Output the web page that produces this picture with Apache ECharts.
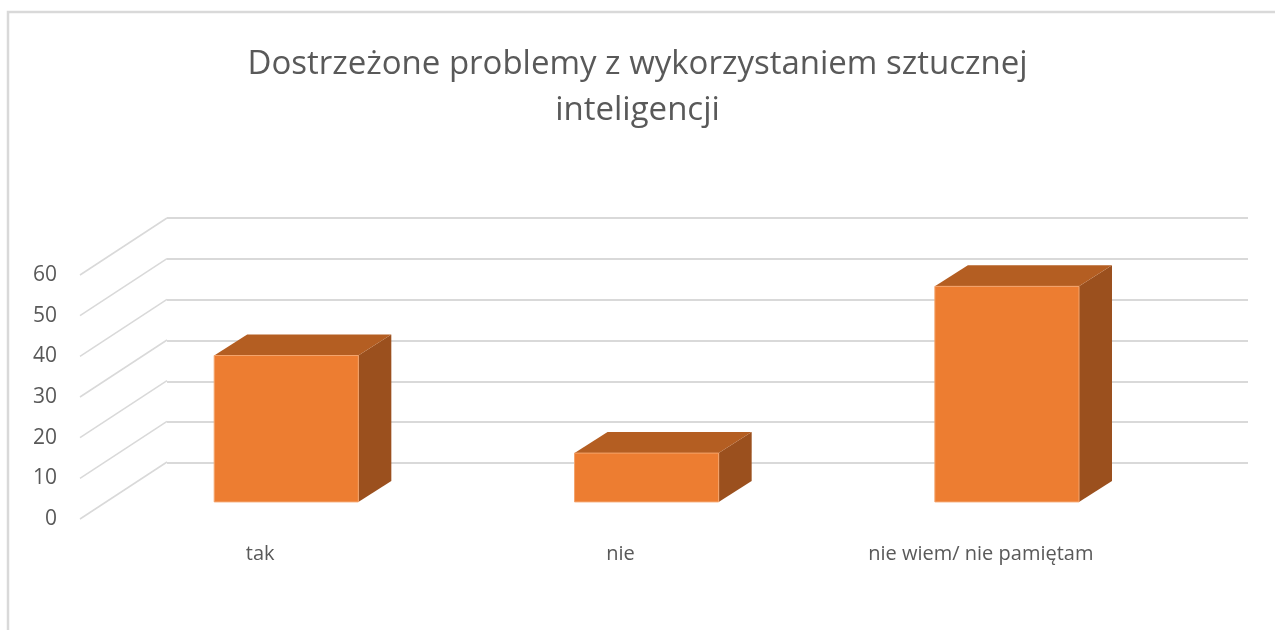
<!DOCTYPE html>
<html>
<head>
<meta charset="utf-8">
<title>Dostrzeżone problemy z wykorzystaniem sztucznej inteligencji</title>
<script src="https://cdn.jsdelivr.net/npm/echarts@6/dist/echarts.min.js"></script>
<style>
    html, body { margin: 0; padding: 0; background: #ffffff; }
    #chart { width: 1275px; height: 630px; }
</style>
</head>
<body>
<div id="chart"></div>
<script>
var categories = ['tak', 'nie', 'nie wiem/ nie pamiętam'];
var answers = [36, 12, 53];
var yTicks = [0, 10, 20, 30, 40, 50, 60];

// depth of the 3d box (front plane -> back wall)
var WALL_DX = 87, WALL_DY = -57;
// bars stand a bit inside the floor, and have their own depth
var BAR_DEPTH = 0.3;
var BAR_DX = 33, BAR_DY = -21;

var chartDom = document.getElementById('chart');
var myChart = echarts.init(chartDom, null, { renderer: 'canvas' });
var option;

function renderDiagonal(params, api) {
    var p = api.coord([0, api.value(0)]);
    var x0 = params.coordSys.x;
    return {
        type: 'line',
        shape: { x1: x0, y1: p[1], x2: x0 + WALL_DX, y2: p[1] + WALL_DY },
        style: { stroke: '#d9d9d9', lineWidth: 1.5 },
        silent: true
    };
}

function renderBar(params, api) {
    var idx = api.value(0);
    var top = api.coord([idx, api.value(1)]);
    var base = api.coord([idx, 0]);
    var band = api.size([1, 0])[0];
    var w = band * 0.4;
    var offX = WALL_DX * BAR_DEPTH, offY = WALL_DY * BAR_DEPTH;
    var x0 = top[0] + offX - w / 2;
    var x1 = x0 + w;
    var yt = top[1] + offY;
    var yb = base[1] + offY;
    return {
        type: 'group',
        children: [{
            type: 'polygon',
            shape: { points: [[x1, yt], [x1 + BAR_DX, yt + BAR_DY], [x1 + BAR_DX, yb + BAR_DY], [x1, yb]] },
            style: { fill: '#9b501e' }
        }, {
            type: 'polygon',
            shape: { points: [[x0, yt], [x0 + BAR_DX, yt + BAR_DY], [x1 + BAR_DX, yt + BAR_DY], [x1, yt]] },
            style: { fill: '#b45e22' }
        }, {
            type: 'rect',
            shape: { x: x0, y: yt, width: w, height: yb - yt },
            style: { fill: '#ed7d31', stroke: '#f4a46c', lineWidth: 1 }
        }]
    };
}

option = {
    backgroundColor: '#ffffff',
    animation: false,
    textStyle: { fontFamily: 'Open Sans' },
    title: {
        text: 'Dostrzeżone problemy z wykorzystaniem sztucznej\ninteligencji',
        left: 'center',
        top: 37,
        textStyle: {
            fontFamily: 'Open Sans',
            fontWeight: 'normal',
            fontSize: 33,
            lineHeight: 46,
            color: '#595959'
        }
    },
    graphic: [{
        type: 'rect',
        shape: { x: 8, y: 12, width: 1400, height: 800 },
        style: { fill: 'none', stroke: '#d9d9d9', lineWidth: 2.5 },
        silent: true
    }],
    grid: [
        // front plane: labels, diagonals, bars
        { left: 80, right: 114, top: 275, bottom: 111 },
        // back wall: gridlines
        { left: 167, right: 27, top: 218, bottom: 167 }
    ],
    xAxis: [{
        type: 'category',
        gridIndex: 0,
        data: categories,
        axisLine: { show: false },
        axisTick: { show: false },
        axisLabel: { color: '#595959', fontSize: 20, margin: 25 }
    }, {
        type: 'category',
        gridIndex: 1,
        data: categories,
        show: false
    }],
    yAxis: [{
        type: 'value',
        gridIndex: 0,
        min: 0,
        max: 60,
        interval: 10,
        axisLine: { show: false },
        axisTick: { show: false },
        splitLine: { show: false },
        axisLabel: { color: '#595959', fontSize: 21, margin: 23 }
    }, {
        type: 'value',
        gridIndex: 1,
        min: 0,
        max: 60,
        interval: 10,
        axisLine: { show: false },
        axisTick: { show: false },
        axisLabel: { show: false },
        splitLine: { show: true, lineStyle: { color: '#d9d9d9', width: 2 } }
    }],
    series: [{
        type: 'custom',
        name: 'floor lines',
        xAxisIndex: 0,
        yAxisIndex: 0,
        renderItem: renderDiagonal,
        data: yTicks.map(function (v) { return [v]; }),
        encode: { y: 0 },
        z: 1
    }, {
        type: 'custom',
        name: 'answers',
        xAxisIndex: 0,
        yAxisIndex: 0,
        renderItem: renderBar,
        data: answers.map(function (v, i) { return [i, v]; }),
        encode: { x: 0, y: 1 },
        z: 5
    }]
};

myChart.setOption(option);

window.addEventListener('resize', function () {
    setTimeout(function () {
        myChart.resize();
    }, 250);
});
</script>
</body>
</html>
